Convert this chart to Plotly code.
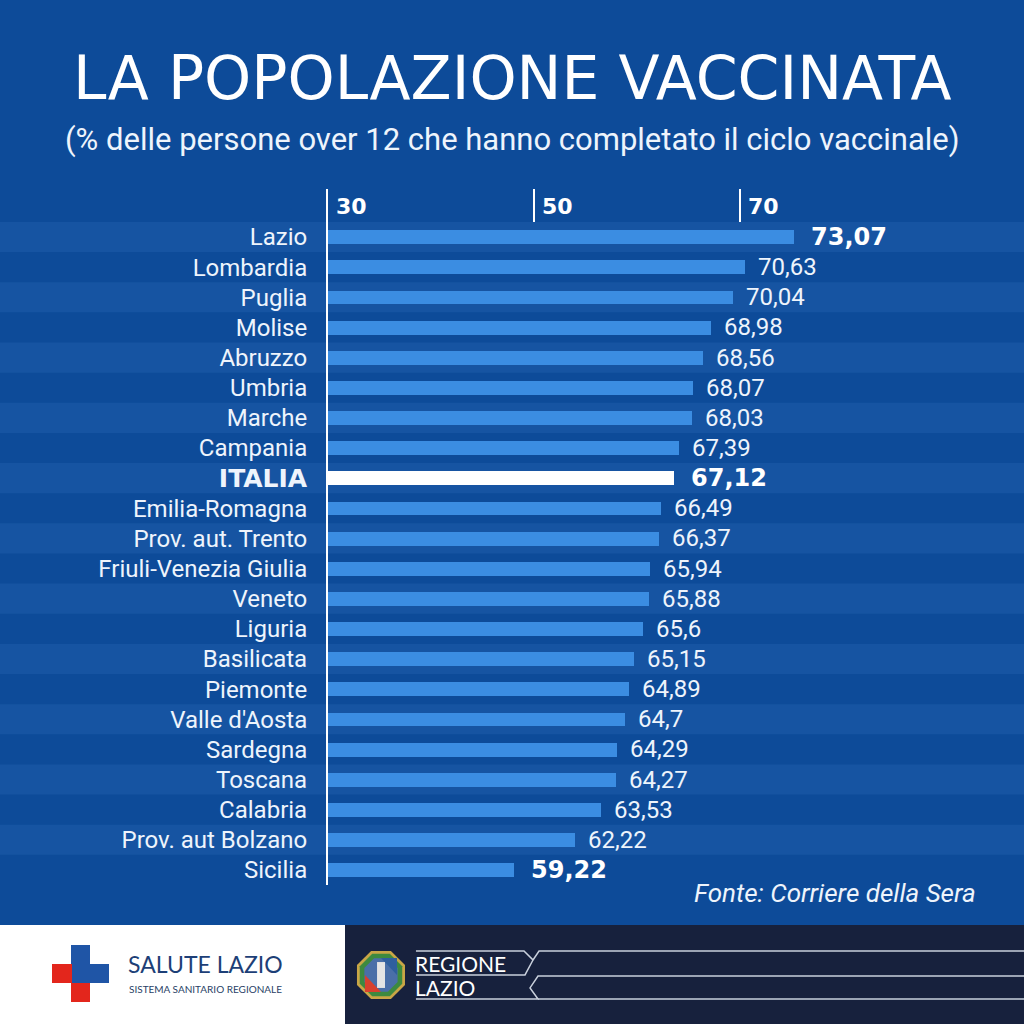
import math
import plotly.graph_objs as go

# data
regions = ['Lazio', 'Lombardia', 'Puglia', 'Molise', 'Abruzzo', 'Umbria', 'Marche',
           'Campania', 'ITALIA', 'Emilia-Romagna', 'Prov. aut. Trento',
           'Friuli-Venezia Giulia', 'Veneto', 'Liguria', 'Basilicata',
           'Piemonte', "Valle d'Aosta", 'Sardegna', 'Toscana', 'Calabria',
           'Prov. aut Bolzano', 'Sicilia']
values = [73.07, 70.63, 70.04, 68.98, 68.56, 68.07, 68.03, 67.39, 67.12, 66.49, 66.37,
          65.94, 65.88, 65.6, 65.15, 64.89, 64.7, 64.29, 64.27, 63.53, 62.22, 59.22]
value_labels = ['73,07', '70,63', '70,04', '68,98', '68,56', '68,07', '68,03', '67,39',
                '67,12', '66,49', '66,37', '65,94', '65,88', '65,6', '65,15', '64,89',
                '64,7', '64,29', '64,27', '63,53', '62,22', '59,22']
bold_rows = ['Lazio', 'ITALIA', 'Sicilia']
header_ticks = [30, 50, 70]
header_labels = ['30', '50', '70']

BG = '#0d4b99'
STRIPE = '#1654a2'
BAR = '#3b8de2'
TXT = '#eef4fc'
NAVY = '#17213d'


def px(x):
    return x / 1024


def py(y):
    return 1 - y / 1024


bar_colors = ['white' if r == 'ITALIA' else BAR for r in regions]
ticktext = ["<span style='font-family:DejaVu Sans;font-weight:bold;font-size:25px'>ITALIA</span>"
            if r == 'ITALIA' else r for r in regions]

fig = go.Figure()
fig.add_trace(go.Bar(x=values, y=regions, orientation='h', width=0.46,
                     marker=dict(color=bar_colors, line_width=0), hoverinfo='skip'))
# invisible trace so the header axis is drawn
fig.add_trace(go.Scatter(x=[30], y=[regions[0]], xaxis='x2', mode='markers',
                         marker=dict(opacity=0), hoverinfo='skip', showlegend=False))

shapes = []
for i in range(0, len(regions), 2):
    shapes.append(dict(type='rect', xref='paper', x0=0, x1=1, yref='y', y0=i - 0.5, y1=i + 0.5,
                       fillcolor=STRIPE, line_width=0, layer='below'))

# footer
shapes.append(dict(type='rect', xref='paper', yref='paper', x0=0, x1=px(345), y0=0, y1=py(925),
                   fillcolor='white', line_width=0))
shapes.append(dict(type='rect', xref='paper', yref='paper', x0=px(345), x1=1, y0=0, y1=py(925),
                   fillcolor=NAVY, line_width=0))
# salute lazio cross
for (x0, x1, y0, y1, c) in [(71, 90, 945, 965, '#1f55a6'), (71, 90, 964, 984, '#1f55a6'),
                            (89, 109, 964, 983, '#1f55a6'), (52, 72, 964, 983, '#e3261c'),
                            (71, 90, 983, 1002, '#e3261c')]:
    shapes.append(dict(type='rect', xref='paper', yref='paper', x0=px(x0), x1=px(x1),
                       y0=py(y1), y1=py(y0), fillcolor=c, line_width=0))


def octagon(cx, cy, r):
    pts = []
    for k in range(8):
        a = math.pi / 8 + k * math.pi / 4
        pts.append((px(cx + r * math.cos(a)), py(cy + r * math.sin(a))))
    return 'M ' + ' L '.join(f'{a:.4f},{b:.4f}' for a, b in pts) + ' Z'


def poly(points, close=False):
    p = 'M ' + ' L '.join(f'{px(a):.4f},{py(b):.4f}' for a, b in points)
    return p + (' Z' if close else '')


shapes.append(dict(type='path', xref='paper', yref='paper', path=octagon(381, 975, 26),
                   fillcolor='#c9a646', line_width=0))
shapes.append(dict(type='path', xref='paper', yref='paper', path=octagon(381, 975, 23),
                   fillcolor='#3d8a3f', line_width=0))
shapes.append(dict(type='path', xref='paper', yref='paper', path=octagon(381, 975, 18),
                   fillcolor='#4a6fa8', line_width=0))
shapes.append(dict(type='path', xref='paper', yref='paper',
                   path=poly([(365, 975), (381, 992), (365, 992)], True),
                   fillcolor='#d8412e', line_width=0))
shapes.append(dict(type='path', xref='paper', yref='paper',
                   path=poly([(381, 958), (397, 975), (397, 958)], True),
                   fillcolor='#2f5f9e', line_width=0))
shapes.append(dict(type='path', xref='paper', yref='paper',
                   path=poly([(377, 962), (385, 962), (385, 988), (377, 988)], True),
                   fillcolor='#e4e4e4', line_width=0))

for pts in [[(416, 951), (524, 951), (533, 960), (525, 975), (416, 975)],
            [(533, 960), (539, 951), (1024, 951)],
            [(416, 999), (538, 999), (530, 988), (538, 976), (1024, 976)],
            [(538, 999), (1024, 999)]]:
    shapes.append(dict(type='path', xref='paper', yref='paper', path=poly(pts),
                       line=dict(color='#c9d0dc', width=1.5)))

annotations = []
for r, v, t in zip(regions, values, value_labels):
    if r in bold_rows:
        font = dict(family='DejaVu Sans', size=24, color='white', weight='bold')
        shift = 15
    else:
        font = dict(family='Roboto', size=24, color=TXT)
        shift = 11
    annotations.append(dict(x=v, y=r, xref='x', yref='y', text=t, showarrow=False,
                            xanchor='left', yanchor='middle', xshift=shift, font=font))


def note(text, x, y, font, xanchor='center'):
    return dict(text=text, x=px(x), y=py(y), xref='paper', yref='paper', showarrow=False,
                xanchor=xanchor, yanchor='middle', font=font)


annotations += [
    note('LA POPOLAZIONE VACCINATA', 512, 78,
         dict(family='DejaVu Sans', size=60, color='white')),
    note('(% delle persone over 12 che hanno completato il ciclo vaccinale)', 512, 139,
         dict(family='Roboto', size=31, color=TXT)),
    note('<i>Fonte: Corriere della Sera</i>', 978, 893,
         dict(family='Roboto', size=26, color=TXT), 'right'),
    note('SALUTE LAZIO', 126, 964, dict(family='Lato', size=23, color='#1d3f77'), 'left'),
    note('SISTEMA SANITARIO REGIONALE', 127, 989,
         dict(family='Lato', size=10, color='#2a3f66'), 'left'),
    note('REGIONE', 413, 963, dict(family='Lato', size=21, color='white'), 'left'),
    note('LAZIO', 413, 987, dict(family='Lato', size=21, color='white'), 'left'),
]

fig.update_layout(
    width=1024, height=1024, margin=dict(l=0, r=0, t=0, b=0),
    paper_bgcolor=BG, plot_bgcolor='rgba(0,0,0,0)', showlegend=False,
    shapes=shapes, annotations=annotations, bargap=0,
    xaxis=dict(domain=[px(328), 1], range=[50, 84.46], showgrid=False, zeroline=False,
               showticklabels=False, ticks=''),
    xaxis2=dict(overlaying='x', anchor='y', side='top', range=[30, 97.57], showgrid=False,
                zeroline=False, tickvals=header_ticks, ticktext=header_labels,
                ticks='inside', ticklen=33, tickwidth=2, tickcolor='white',
                ticklabelposition='inside right', ticklabelshift=7, ticklabelstandoff=4,
                tickfont=dict(family='DejaVu Sans', size=22, color='white', weight='bold')),
    yaxis=dict(domain=[py(885), py(188.8)], type='category', categoryarray=regions,
               range=[21.5, -1.6], showgrid=False, zeroline=False, showline=True,
               linecolor='white', linewidth=2, ticks='', tickvals=regions, ticktext=ticktext,
               ticklabelstandoff=14, tickfont=dict(family='Roboto', size=24, color=TXT)),
)

fig.write_html('out.html', config={'displayModeBar': False},
               post_script="document.body.style.margin='0';")
